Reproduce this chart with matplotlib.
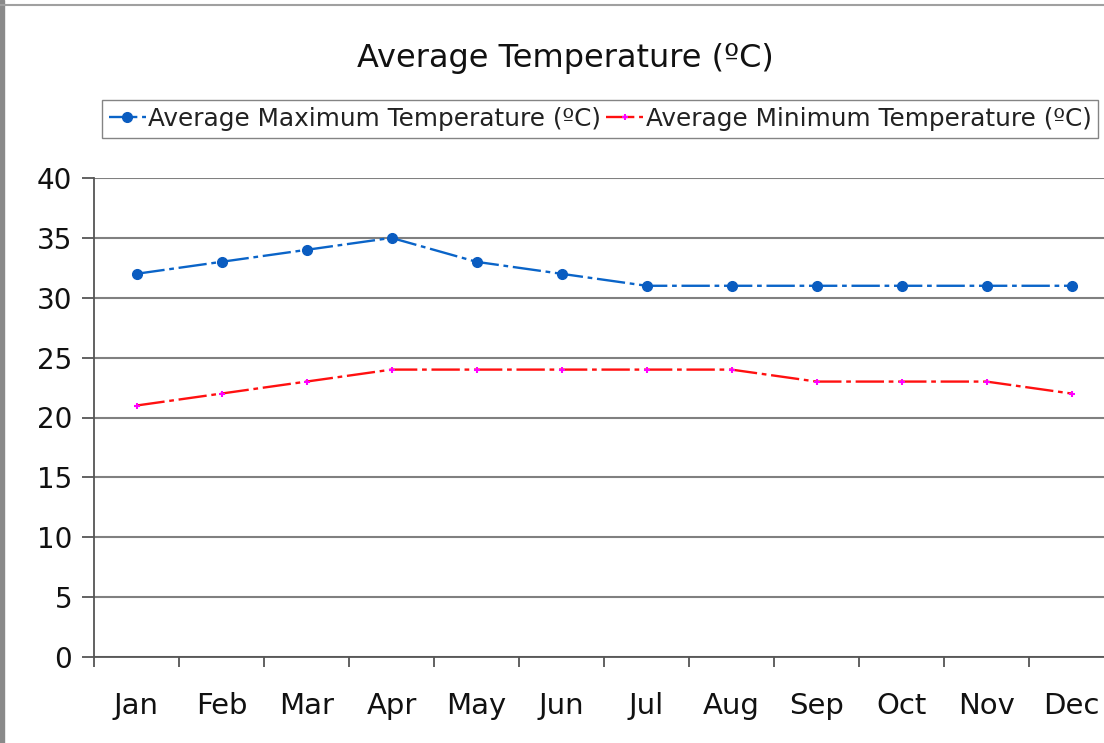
import numpy as np
import matplotlib
matplotlib.use("Agg")
import matplotlib.pyplot as plt
from matplotlib.patches import Rectangle
from matplotlib.lines import Line2D

# data
months = ['Jan', 'Feb', 'Mar', 'Apr', 'May', 'Jun',
          'Jul', 'Aug', 'Sep', 'Oct', 'Nov', 'Dec']
avg_max = [32, 33, 34, 35, 33, 32, 31, 31, 31, 31, 31, 31]
avg_min = [21, 22, 23, 24, 24, 24, 24, 24, 23, 23, 23, 22]
yticks = [0, 5, 10, 15, 20, 25, 30, 35, 40]

plt.rcParams['font.family'] = ['DejaVu Sans']

W, H = 1104, 743
fig = plt.figure(figsize=(W / 100, H / 100), dpi=100)
fig.patch.set_facecolor('white')

# frame bits from the screenshot
fig.patches.append(Rectangle((0, 0), 4 / W, 1, transform=fig.transFigure,
                             color='#8a8a8a', zorder=0))
fig.add_artist(Line2D([0, 1], [1 - 5 / H, 1 - 5 / H], transform=fig.transFigure,
                      color='#a0a0a0', lw=1.5))

# plot area runs off the right edge, like in the original
ax = fig.add_axes([94 / W, 86 / H, 1020 / W, 479 / H])
x = np.arange(len(months))

ax.plot(x, avg_max, color='#0a64c8', lw=1.7, ls='-.', dashes=(12, 2, 2, 2),
        marker='o', ms=7, mfc='#0a5cc0', mec='#0a5cc0', zorder=3,
        label='Average Maximum Temperature (ºC)')
ax.plot(x, avg_min, color='#ff1010', lw=1.7, ls='-.', dashes=(12, 2, 2, 2),
        marker='+', ms=5, mew=1.5, mec='#ff00ff', zorder=3,
        label='Average Minimum Temperature (ºC)')

ax.set_xlim(-0.5, len(months) - 0.5)
ax.set_ylim(0, 40)
ax.set_yticks(yticks)
ax.yaxis.grid(True, color='#808080', lw=1.5)
ax.set_axisbelow(True)

ax.set_xticks(x)
ax.set_xticklabels(months)
ax.set_xticks(np.arange(len(months) + 1) - 0.5, minor=True)
ax.tick_params(axis='x', which='major', length=0, pad=25, labelsize=21, labelcolor='#111111')
ax.tick_params(axis='x', which='minor', length=7, width=1.3, color='#555555', direction='out')
ax.tick_params(axis='y', length=8.6, width=1.3, color='#555555', labelsize=20,
               pad=7, labelcolor='#111111')

for s in ['top', 'right']:
    ax.spines[s].set_visible(False)
for s in ['left', 'bottom']:
    ax.spines[s].set_color('#555555')
    ax.spines[s].set_linewidth(1.3)

fig.text(565 / W, 1 - 67 / H, 'Average Temperature (ºC)', ha='center', va='baseline',
         fontsize=23, color='#111111')

fig.legend(loc='center', bbox_to_anchor=(600 / W, 1 - 119 / H), ncol=2,
           fontsize=17.8, frameon=True, fancybox=False, edgecolor='#666666',
           handlelength=1.5, handletextpad=0.1, columnspacing=0.2,
           borderpad=0.28, borderaxespad=0, labelcolor='#222222')

fig.savefig('out.png', dpi=100, facecolor='white')
